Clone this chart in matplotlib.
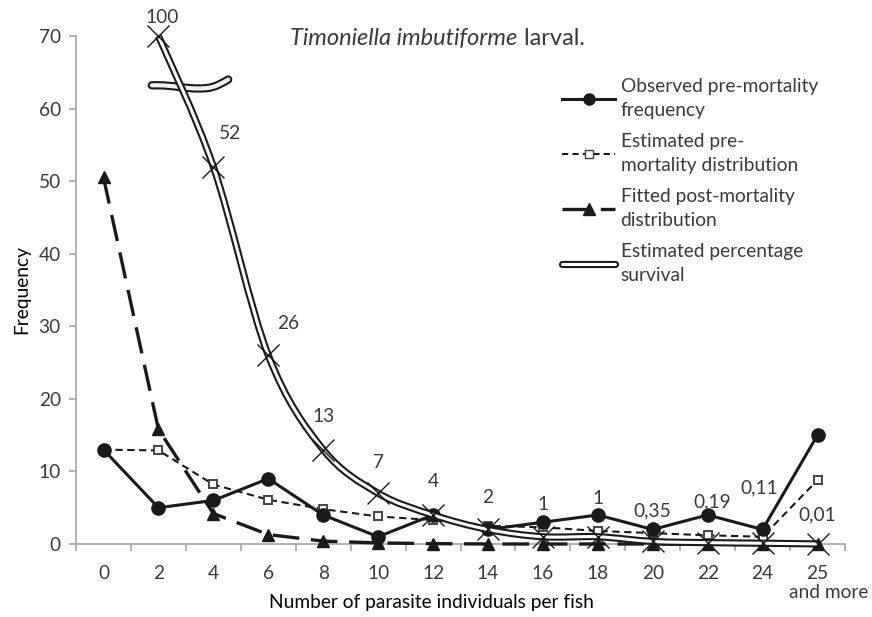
import numpy as np
import matplotlib
matplotlib.use('Agg')
import matplotlib.pyplot as plt
from matplotlib.path import Path
from matplotlib.patches import PathPatch
from matplotlib.lines import Line2D

plt.rcParams['font.family'] = ['Lato', 'DejaVu Sans']
plt.rcParams['text.color'] = '#3a3a3a'

# ---- data ------------------------------------------------------------------
categories = ['0', '2', '4', '6', '8', '10', '12', '14', '16', '18', '20', '22', '24', '25']
last_sublabel = 'and more'
observed = [13, 5, 6, 9, 4, 1, 4, 2, 3, 4, 2, 4, 2, 15]
estimated_pre = [13, 12.9, 8.2, 6.1, 4.8, 3.8, 3.3, 2.5, 2.3, 1.8, 1.5, 1.2, 1.0, 8.8]
fitted_post = [50.5, 15.8, 4.2, 1.3, 0.4, 0.15, 0.05, 0, 0, 0, 0, 0, 0, 0]
survival = [100, 52, 26, 13, 7, 4, 2, 1, 1, 0.35, 0.19, 0.11, 0.01]   # from category "2"
survival_labels = ['100', '52', '26', '13', '7', '4', '2', '1', '1', '0,35', '0,19', '0,11', '0,01']
y_break = 70   # axis is broken, 100 drawn at top

ink = '#1a1a1a'
grey = '#a6a6a6'
fs = 13.75

fig = plt.figure(figsize=(8.72, 6.17), dpi=100)
ax = fig.add_axes([0.0872, 0.1183, 0.8818, 0.8234])

x = np.arange(len(categories))
xs = x[1:]
surv_plot = np.minimum(survival, y_break)


def smooth_path(px, py):
    # Excel-style smoothed line: cubic Bezier through the points
    pts = np.column_stack([px, py]).astype(float)
    n = len(pts)
    verts = [pts[0]]
    codes = [Path.MOVETO]
    for i in range(n - 1):
        p0 = pts[i - 1] if i > 0 else pts[i]
        p1 = pts[i]
        p2 = pts[i + 1]
        p3 = pts[i + 2] if i + 2 < n else pts[i + 1]
        c1 = p1 + (p2 - p0) / 6
        c2 = p2 - (p3 - p1) / 6
        verts += [c1, c2, p2]
        codes += [Path.CURVE4] * 3
    return Path(verts, codes)


# fitted post-mortality
ax.plot(x, fitted_post, color=ink, lw=2.4, dashes=(8, 3.5), marker='^', ms=9,
        zorder=3, clip_on=False)
# estimated pre-mortality
ax.plot(x, estimated_pre, color=ink, lw=1.5, dashes=(3.5, 2.2), marker='s', ms=6,
        mfc='white', mec='#444444', mew=1.4, zorder=4, clip_on=False)
# observed
ax.plot(x, observed, color=ink, lw=2.2, marker='o', ms=9.5, zorder=5, clip_on=False)

# axis break symbol (drawn under the survival line)
bverts = [(0.88, 63.2), (1.3, 63.3), (1.5, 62.6), (1.85, 62.8),
          (2.05, 62.9), (2.15, 63.5), (2.27, 64.0)]
bcodes = [Path.MOVETO] + [Path.CURVE4] * 6
bp = Path(bverts, bcodes)
ax.add_patch(PathPatch(bp, fill=False, ec=ink, lw=6.0, capstyle='round', zorder=5.5, clip_on=False))
ax.add_patch(PathPatch(bp, fill=False, ec='#f0f0f0', lw=3.0, capstyle='round', zorder=5.6, clip_on=False))

# estimated percentage survival (double smoothed line)
sp = smooth_path(xs, surv_plot)
ax.add_patch(PathPatch(sp, fill=False, ec=ink, lw=5.2, zorder=6, clip_on=False))
ax.add_patch(PathPatch(sp, fill=False, ec='white', lw=2.2, zorder=6.1, clip_on=False))
ax.plot(xs, surv_plot, ls='none', marker='x', ms=16, mew=1.0, color=ink, zorder=6.2,
        clip_on=False)

# survival labels
label_offsets = [(4, 18), (17, 33), (20, 32), (0, 33), (0, 31), (0, 33), (0, 32),
                 (0, 32), (0, 38), (0, 31), (5, 41), (-3, 55), (0, 29)]
for xi, yi, lab, off in zip(xs, surv_plot, survival_labels, label_offsets):
    ax.annotate(lab, (xi, yi), xytext=off, textcoords='offset pixels',
                ha='center', va='center', fontsize=fs, color='#3a3a3a', zorder=8)

# axes styling
ax.set_xlim(-0.5, len(categories) - 0.5)
ax.set_ylim(0, 70)
ax.set_yticks(range(0, 71, 10))
ax.set_xticks(x)
ax.set_xticklabels(categories)
ax.set_xticks(np.arange(-0.5, len(categories), 1), minor=True)
for s in ['top', 'right']:
    ax.spines[s].set_visible(False)
for s in ['left', 'bottom']:
    ax.spines[s].set_color(grey)
    ax.spines[s].set_linewidth(1.2)
ax.tick_params(axis='x', which='major', length=0, pad=15, labelsize=fs, labelcolor='#3a3a3a')
ax.tick_params(axis='x', which='minor', length=5, color=grey, width=1.2)
ax.tick_params(axis='y', length=5, color=grey, width=1.2, pad=6, labelsize=fs,
               labelcolor='#3a3a3a')

# second line under the last category
ax.annotate(last_sublabel, (x[-1], 0), xytext=(11, -48), textcoords='offset pixels',
            ha='center', va='center', fontsize=fs, color='#3a3a3a', annotation_clip=False)

ax.set_ylabel('Frequency', fontsize=fs, labelpad=6)
ax.set_xlabel('Number of parasite individuals per fish', fontsize=fs)
ax.xaxis.set_label_coords(0.4616, -0.098)

# title
t1 = fig.text(0.333, 0.938, 'Timoniella imbutiforme', fontsize=17, style='italic',
              ha='left', va='center')
ax.annotate(' larval.', xy=(1, 0.5), xycoords=t1, va='center', ha='left', fontsize=17)

# legend
h_obs = Line2D([], [], color=ink, lw=2.2, marker='o', ms=8)
h_pre = Line2D([], [], color=ink, lw=1.5, dashes=(3, 2), marker='s', ms=6,
               mfc='white', mec='#444444')
h_fit = Line2D([], [], color=ink, lw=2.4, dashes=(8, 3.5), marker='^', ms=8)
h_s1 = Line2D([], [], color=ink, lw=5.2, solid_capstyle='round')
h_s2 = Line2D([], [], color='white', lw=2.2, solid_capstyle='round')
leg = ax.legend([h_obs, h_pre, h_fit, (h_s1, h_s2)],
                ['Observed pre-mortality\nfrequency', 'Estimated pre-\nmortality distribution',
                 'Fitted post-mortality\ndistribution', 'Estimated percentage\nsurvival'],
                loc='upper left', bbox_to_anchor=(0.62, 0.937), frameon=False,
                fontsize=fs, handlelength=2.75, handletextpad=0.3, labelspacing=0.7,
                borderpad=0)
for t in leg.get_texts():
    t.set_linespacing(1.55)

fig.savefig('out.png', dpi=100)
